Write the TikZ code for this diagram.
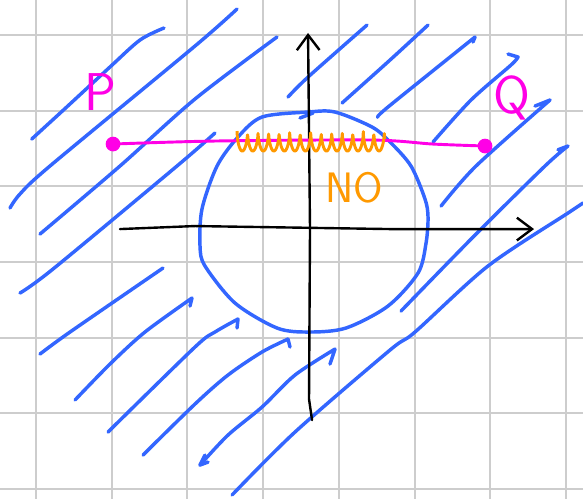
\documentclass[tikz,border=0pt]{standalone}
\usepackage{tikz}
\usetikzlibrary{arrows.meta}
\definecolor{penblue}{RGB}{51,102,255}
\definecolor{penpink}{RGB}{255,0,230}
\definecolor{penorange}{RGB}{255,153,0}
\definecolor{gridgray}{RGB}{205,205,205}

\begin{document}
\begin{tikzpicture}[
  hatch/.style={penblue, line width=1.3pt, line cap=round, line join=round},
  axis/.style={black, line width=0.9pt, line cap=round, -{Straight Barb[length=2mm,width=3mm]}},
  dot/.style={circle, draw=penpink, fill=penpink, inner sep=0pt, minimum size=1.8mm},
  lbl/.style={font=\sffamily\fontsize{20}{24}\selectfont, text=penpink}
]
  \useasboundingbox (0,0) rectangle (7.701,6.579);
  % squared paper
  \begin{scope}
    \clip (0,0) rectangle (7.701,6.579);
    \draw[gridgray, line width=0.75pt, shift={(0.476,0.119)}] (-1,-1) grid (8,7);
  \end{scope}
  % hatching outside the disc
  \draw[hatch] plot[smooth] coordinates {(0.419,4.742) (0.881,5.165) (1.453,5.694) (1.849,6.050) (2.166,6.209)};
  \draw[hatch] plot[smooth] coordinates {(0.132,3.831) (0.264,4.016) (0.660,4.386) (2.576,5.971) (3.131,6.460)};
  \draw[hatch] plot[smooth] coordinates {(0.528,3.487) (1.585,4.386) (2.576,5.271) (3.659,6.090)};
  \draw[hatch] plot[smooth] coordinates {(0.264,2.708) (0.700,3.025) (2.338,4.386) (2.840,4.822)};
  \draw[hatch] plot[smooth] coordinates {(0.528,1.902) (0.925,2.193) (2.153,3.038)};
  \draw[hatch] plot[smooth] coordinates {(0.991,1.295) (1.453,1.770) (1.915,2.193) (2.536,2.642)} -- (2.510,2.536);
  \draw[hatch] plot[smooth] coordinates {(1.427,0.872) (2.576,1.995) (2.840,2.193) (3.144,2.365)} -- (3.131,2.246);
  \draw[hatch] plot[smooth] coordinates {(1.889,0.568) (2.576,1.242) (3.012,1.625) (3.461,1.929) (3.804,2.100)} -- (3.831,1.995);
  \draw[hatch] plot[smooth] coordinates {(2.642,0.436) (3.012,0.832) (3.461,1.202) (3.897,1.625) (4.425,1.968)} -- (4.359,1.770);
  \draw[hatch] (2.708,0.568) -- (2.642,0.436) -- (2.748,0.475);
  \draw[hatch] plot[smooth] coordinates {(3.065,0.040) (3.897,0.872) (5.152,1.955) (5.482,2.193) (6.446,3.065) (7.503,3.765) (7.701,3.897)};
  \draw[hatch] plot[smooth] coordinates {(5.297,2.470) (6.275,3.474) (7.199,4.386) (7.503,4.650)} -- (7.370,4.600);
  \draw[hatch] plot[smooth] coordinates {(5.826,3.857) (6.288,4.386) (7.266,5.258)} -- (7.067,5.178);
  \draw[hatch] plot[smooth] coordinates {(5.720,4.703) (6.222,5.258) (6.750,5.720) (6.843,5.826)} -- (6.711,5.865);
  \draw[hatch] plot[smooth] coordinates {(4.993,5.033) (5.125,5.165) (6.275,6.090)} -- (6.248,6.024);
  \draw[hatch] plot[smooth] coordinates {(4.518,5.218) (5.152,5.786) (5.654,6.248)};
  \draw[hatch] plot[smooth] coordinates {(3.804,5.297) (4.069,5.561) (4.848,6.248)};
  \draw[hatch] (3.963,5.020) -- (4.135,5.086);
  % the disc
  \draw[hatch] plot[smooth cycle] coordinates {(4.069,5.099) (4.425,5.099) (4.914,4.901) (5.152,4.703)
    (5.429,4.386) (5.614,3.950) (5.654,3.712) (5.628,3.369) (5.522,2.972) (5.125,2.536)
    (4.571,2.246) (4.082,2.193) (3.659,2.246) (3.104,2.576) (2.708,3.065) (2.642,3.329)
    (2.668,3.818) (2.867,4.386) (3.144,4.769) (3.461,5.033)};
  % axes
  \draw[axis] (4.122,1.030) -- (4.082,1.308) -- (4.095,3.553) -- (4.069,6.143);
  \draw[axis] (1.585,3.553) -- (2.576,3.593) -- (5.152,3.553) -- (7.054,3.553);
  % path from P to Q
  \node[dot] (pP) at (1.493,4.676) {};
  \node[dot] (pQ) at (6.407,4.650) {};
  \draw[penpink, line width=1.1pt] plot[smooth] coordinates {(pP.center) (2.840,4.716) (4.914,4.729) (5.720,4.676) (pQ.center)};
  \node[lbl] (lP) at (1.321,5.363) {P};
  \node[lbl] (lQ) at (6.764,5.284) {Q};
  % forbidden stretch
  \draw[penorange, line width=1.1pt, line join=round, domain=3.131:5.086, samples=500]
    plot (\x, {4.848 - 0.264*abs(sin(180*(\x-3.131)/0.139))^0.5});
  \node[font=\sffamily\fontsize{16}{19}\selectfont, text=penorange] (lNO) at (4.676,4.095) {NO};
\end{tikzpicture}
\end{document}
